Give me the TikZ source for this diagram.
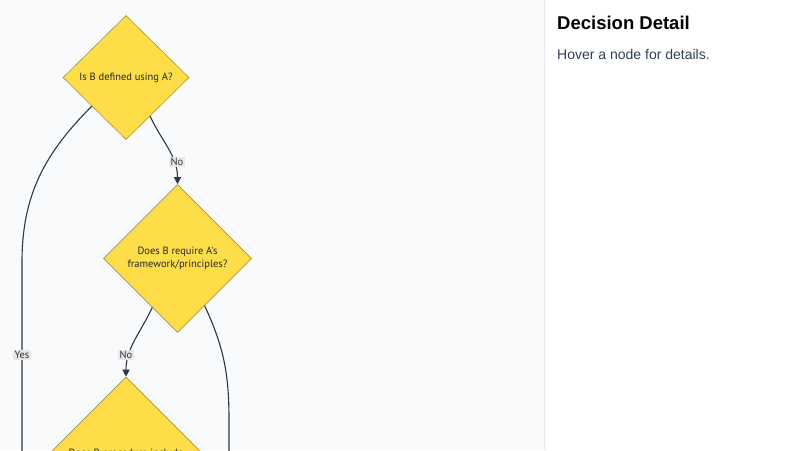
\documentclass[tikz,border=0pt]{standalone}
\usepackage{fontspec}
\setmainfont{Liberation Sans}
\newfontfamily\diafont{PT Sans}
\usetikzlibrary{shapes.geometric,arrows.meta,calc}
\definecolor{leftbg}{RGB}{248,250,252}
\definecolor{panelline}{RGB}{226,232,240}
\definecolor{diafill}{RGB}{253,222,72}
\definecolor{diadraw}{RGB}{176,146,52}
\definecolor{edgecol}{RGB}{45,55,72}
\definecolor{lblbg}{RGB}{232,232,232}
\definecolor{bodytext}{RGB}{51,65,85}
\tikzset{
  dia/.style={diamond, fill=diafill, draw=diadraw, line width=0.6pt, inner sep=0pt,
    align=center, font=\diafont\fontsize{10.5}{12.5}\selectfont, text=black!85},
  edge/.style={draw=edgecol, line width=1.1pt},
  arr/.style={edge, -{Triangle[length=7pt,width=7pt]}},
  lbl/.style={fill=lblbg, inner sep=1.2pt, font=\diafont\fontsize{10.5}{11}\selectfont, text=black!80},
}
\begin{document}
\begin{tikzpicture}[x=1pt,y=-1pt]
\useasboundingbox (0,0) rectangle (800,450);
\clip (0,0) rectangle (800,450);
\fill[leftbg] (0,0) rectangle (545,450);
\fill[white] (545,0) rectangle (800,450);
\draw[panelline, line width=1pt] (544.5,0) -- (544.5,450);

\node[font=\bfseries\fontsize{18.5}{21}\selectfont, anchor=base west, inner sep=0pt] (title) at (557,29) {Decision Detail};
\node[font=\fontsize{14}{16}\selectfont, text=bodytext, anchor=base west, inner sep=0pt] (hover) at (557,59) {Hover a node for details.};

\node[dia, minimum width=126pt, minimum height=124pt] (d1) at (126,77.5) {Is B defined using A?};
\node[dia, minimum width=148pt, minimum height=148pt] (d2) at (177.5,258.5) {Does B require A's\\framework/principles?};
\node[dia, minimum width=226pt, minimum height=226pt] (d3) at (126,490) {};
\node[font=\diafont\fontsize{10.5}{12.5}\selectfont, text=black!85] (d3t) at (126,454) {Does B procedure include};

\coordinate (y1) at ($(d1.west)!0.46!(d1.south)$);
\coordinate (n1) at ($(d1.east)!0.62!(d1.south)$);
\coordinate (n2) at ($(d2.west)!0.66!(d2.south)$);
\coordinate (r2) at ($(d2.east)!0.635!(d2.south)$);
\coordinate (yv) at (22,262);
\coordinate (yend) at (22,470);
\coordinate (rv) at (229,420);
\coordinate (rend) at (229,470);

\draw[edge] (y1) to[out=-135,in=90] (yv) -- (yend);
\node[lbl] (ylbl) at (22,355) {Yes};
\draw[arr] (n1) to[out=-65,in=90] (d2.north);
\node[lbl] (nl1) at (177,162) {No};
\draw[arr] (n2) to[out=-115,in=90] (d3.north);
\node[lbl] (nl2) at (126,355) {No};
\draw[edge] (r2) to[out=-65,in=90] (rv) -- (rend);
\end{tikzpicture}
\end{document}
